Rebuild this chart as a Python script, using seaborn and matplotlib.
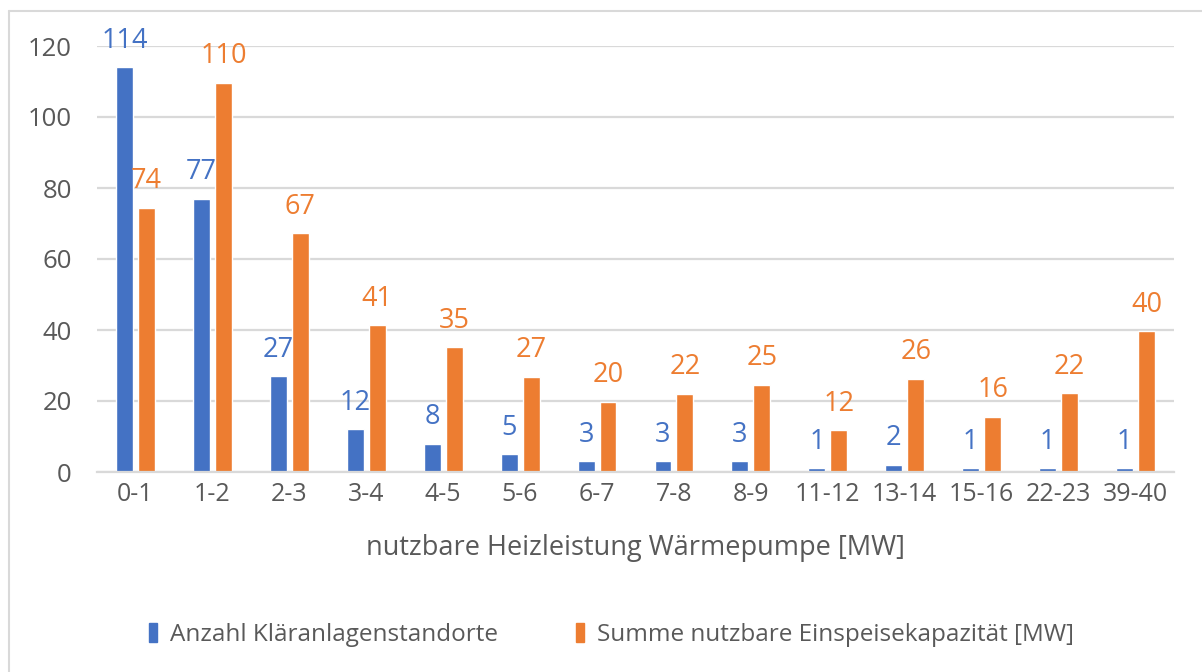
import matplotlib
matplotlib.use("Agg")
import matplotlib.pyplot as plt
from matplotlib.lines import Line2D
import seaborn as sns
import pandas as pd

sns.set_theme(style="white")
plt.rcParams['font.family'] = ['Open Sans', 'DejaVu Sans']

BLUE = "#4472C4"
ORANGE = "#ED7D31"
TEXT = "#595959"
GRID = "#D9D9D9"

categories = ["0-1", "1-2", "2-3", "3-4", "4-5", "5-6", "6-7", "7-8", "8-9",
              "11-12", "13-14", "15-16", "22-23", "39-40"]
anzahl = [114, 77, 27, 12, 8, 5, 3, 3, 3, 1, 2, 1, 1, 1]
summe = [74.4, 109.7, 67.2, 41.3, 35.2, 26.8, 19.8, 22.1, 24.6, 11.8, 26.3, 15.6, 22.2, 39.6]
series = ["Anzahl Kläranlagenstandorte", "Summe nutzbare Einspeisekapazität [MW]"]

df = pd.DataFrame({
    "kat": categories * 2,
    "wert": anzahl + summe,
    "serie": [series[0]] * len(categories) + [series[1]] * len(categories),
})

fig = plt.figure(figsize=(12.02, 6.72), dpi=100)
ax = fig.add_axes([97 / 1202, 1 - 472 / 672, (1174 - 97) / 1202, (472 - 46) / 672])

sns.barplot(data=df, x="kat", y="wert", hue="serie", palette=[BLUE, ORANGE],
            width=0.57, gap=0.23, ax=ax, legend=False, errorbar=None, saturation=1)

ax.set_ylim(0, 120)
ax.set_yticks(range(0, 121, 20))
ax.set_xlim(-0.5, len(categories) - 0.5)
ax.yaxis.grid(True, color=GRID, linewidth=1.6)
ax.set_axisbelow(True)
for s in ["top", "right", "left"]:
    ax.spines[s].set_visible(False)
ax.spines["bottom"].set_color(GRID)
ax.spines["bottom"].set_linewidth(1.6)
ax.tick_params(axis="both", length=0, labelsize=18.5, colors=TEXT)
ax.tick_params(axis="x", labelsize=18, pad=7)
ax.tick_params(axis="y", pad=18)
ax.set_ylabel("")
ax.set_xlabel("nutzbare Heizleistung Wärmepumpe [MW]", fontsize=19.5, color=TEXT, labelpad=20)

for cont, col in zip(ax.containers, [BLUE, ORANGE]):
    ax.bar_label(cont, labels=[f"{v:.0f}" for v in cont.datavalues], color=col,
                 fontsize=19.5, padding=9, clip_on=False)

handles = [plt.Rectangle((0, 0), 1, 1, color=BLUE), plt.Rectangle((0, 0), 1, 1, color=ORANGE)]
fig.legend(handles, series, loc="center", bbox_to_anchor=(0.509, 1 - 635 / 672), ncol=2,
           frameon=False, handlelength=0.32, handleheight=0.85, handletextpad=0.55,
           columnspacing=3.2, prop={"size": 17.5, "family": ["Open Sans"]}, labelcolor=TEXT)

# Rahmen (nur oben und links sichtbar)
fig.add_artist(Line2D([9 / 1202, 1], [1 - 11 / 672, 1 - 11 / 672], color=GRID, linewidth=1.5))
fig.add_artist(Line2D([9 / 1202, 9 / 1202], [0, 1 - 11 / 672], color=GRID, linewidth=1.5))

fig.savefig("out.png", dpi=100, facecolor="white")
